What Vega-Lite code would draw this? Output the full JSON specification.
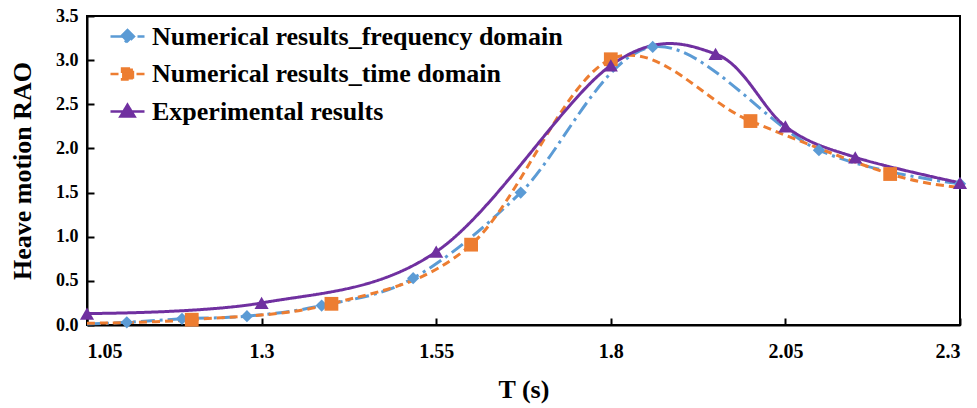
{
  "$schema": "https://vega.github.io/schema/vega-lite/v6.json",
  "width": 873,
  "height": 309,
  "autosize": {"type": "none"},
  "padding": {"left": 87, "top": 16, "right": 17, "bottom": 83},
  "background": "white",
  "config": {
    "font": "Liberation Serif",
    "view": {"stroke": "black", "strokeWidth": 2},
    "axis": {
      "domainColor": "black", "domainWidth": 2,
      "tickColor": "black", "tickWidth": 2, "tickSize": -7,
      "labelFont": "Liberation Serif", "labelFontSize": 18, "labelFontWeight": "bold", "labelColor": "black",
      "titleFont": "Liberation Serif", "titleFontSize": 26, "titleFontWeight": "bold", "titleColor": "black",
      "grid": false
    },
    "legend": {
      "labelFont": "Liberation Serif", "labelFontSize": 26, "labelFontWeight": "bold", "labelColor": "black", "labelLimit": 0,
      "symbolSize": 1156, "symbolStrokeWidth": 2.5, "symbolOpacity": 1,
      "padding": 0, "rowPadding": 5.5, "labelOffset": 6
    }
  },
  "data": {
    "values": [
      {"T": 1.05, "RAO": 0.01, "series": "Numerical results_frequency domain", "marker": false},
      {"T": 1.107, "RAO": 0.03, "series": "Numerical results_frequency domain", "marker": true},
      {"T": 1.186, "RAO": 0.07, "series": "Numerical results_frequency domain", "marker": true},
      {"T": 1.279, "RAO": 0.10, "series": "Numerical results_frequency domain", "marker": true},
      {"T": 1.386, "RAO": 0.22, "series": "Numerical results_frequency domain", "marker": true},
      {"T": 1.517, "RAO": 0.53, "series": "Numerical results_frequency domain", "marker": true},
      {"T": 1.671, "RAO": 1.50, "series": "Numerical results_frequency domain", "marker": true},
      {"T": 1.86, "RAO": 3.15, "series": "Numerical results_frequency domain", "marker": true},
      {"T": 2.098, "RAO": 1.98, "series": "Numerical results_frequency domain", "marker": true},
      {"T": 2.3, "RAO": 1.60, "series": "Numerical results_frequency domain", "marker": true},
      {"T": 1.05, "RAO": 0.02, "series": "Numerical results_time domain", "marker": false},
      {"T": 1.2, "RAO": 0.06, "series": "Numerical results_time domain", "marker": true},
      {"T": 1.4, "RAO": 0.24, "series": "Numerical results_time domain", "marker": true},
      {"T": 1.6, "RAO": 0.91, "series": "Numerical results_time domain", "marker": true},
      {"T": 1.8, "RAO": 3.01, "series": "Numerical results_time domain", "marker": true},
      {"T": 2.0, "RAO": 2.31, "series": "Numerical results_time domain", "marker": true},
      {"T": 2.2, "RAO": 1.71, "series": "Numerical results_time domain", "marker": true},
      {"T": 2.3, "RAO": 1.56, "series": "Numerical results_time domain", "marker": false},
      {"T": 1.05, "RAO": 0.13, "series": "Experimental results", "marker": true},
      {"T": 1.3, "RAO": 0.25, "series": "Experimental results", "marker": true},
      {"T": 1.55, "RAO": 0.83, "series": "Experimental results", "marker": true},
      {"T": 1.8, "RAO": 2.94, "series": "Experimental results", "marker": true},
      {"T": 1.95, "RAO": 3.07, "series": "Experimental results", "marker": true},
      {"T": 2.05, "RAO": 2.25, "series": "Experimental results", "marker": true},
      {"T": 2.15, "RAO": 1.90, "series": "Experimental results", "marker": true},
      {"T": 2.3, "RAO": 1.61, "series": "Experimental results", "marker": true}
    ]
  },
  "encoding": {
    "x": {
      "field": "T", "type": "quantitative", "title": "T (s)",
      "scale": {"domain": [1.05, 2.3], "nice": false, "zero": false},
      "axis": {"values": [1.05, 1.3, 1.55, 1.8, 2.05, 2.3], "format": ".3~g", "labelFontSize": 20, "labelPadding": 23, "titlePadding": 15}
    },
    "y": {
      "field": "RAO", "type": "quantitative", "title": "Heave motion RAO",
      "scale": {"domain": [0, 3.5], "nice": false},
      "axis": {"values": [0, 0.5, 1, 1.5, 2, 2.5, 3, 3.5], "format": ".1f", "labelPadding": 16, "titlePadding": 20}
    }
  },
  "layer": [
    {
      "mark": {"type": "line", "interpolate": "cardinal", "strokeWidth": 3},
      "encoding": {
        "color": {"field": "series", "type": "nominal",
          "scale": {"domain": ["Numerical results_frequency domain", "Numerical results_time domain", "Experimental results"], "range": ["#5B9BD5", "#ED7D31", "#7030A0"]},
          "legend": {"title": null, "orient": "none", "legendX": 22, "legendY": 2}},
        "strokeDash": {"field": "series", "type": "nominal",
          "scale": {"domain": ["Numerical results_frequency domain", "Numerical results_time domain", "Experimental results"], "range": [[14, 5, 3, 5], [8, 5], [1, 0]]},
          "legend": {"title": null, "orient": "none", "legendX": 22, "legendY": 2}}
      }
    },
    {
      "transform": [{"filter": "datum.marker && datum.series == 'Numerical results_frequency domain'"}],
      "mark": {"type": "point", "shape": "diamond", "filled": true, "opacity": 1, "size": 150, "color": "#5B9BD5"}
    },
    {
      "transform": [{"filter": "datum.marker && datum.series == 'Numerical results_time domain'"}],
      "mark": {"type": "point", "shape": "square", "filled": true, "opacity": 1, "size": 190, "color": "#ED7D31"}
    },
    {
      "transform": [{"filter": "datum.marker && datum.series == 'Experimental results'"}],
      "mark": {"type": "point", "shape": "triangle-up", "filled": true, "opacity": 1, "size": 200, "color": "#7030A0"}
    },
    {
      "mark": {"type": "point", "filled": true, "opacity": 0, "strokeWidth": 2.5},
      "encoding": {
        "color": {"field": "series", "type": "nominal",
          "legend": {"title": null, "orient": "none", "legendX": 22, "legendY": 2}},
        "shape": {"field": "series", "type": "nominal",
          "scale": {"domain": ["Numerical results_frequency domain", "Numerical results_time domain", "Experimental results"],
            "range": ["M-1,0L1,0M0,-0.38L0.38,0L0,0.38L-0.38,0Z", "M-1,0L1,0M-0.32,-0.32L0.32,-0.32L0.32,0.32L-0.32,0.32Z", "M-1,0L1,0M0,-0.4L0.42,0.3L-0.42,0.3Z"]},
          "legend": {"title": null, "orient": "none", "legendX": 22, "legendY": 2}}
      }
    }
  ]
}
